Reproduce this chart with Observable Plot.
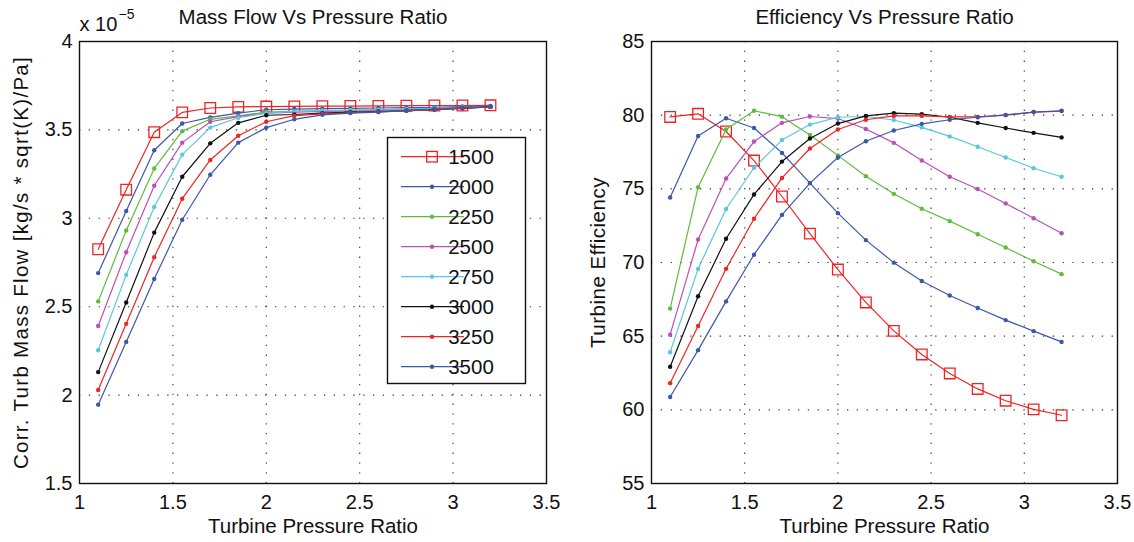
<!DOCTYPE html>
<html>
<head>
<meta charset="utf-8">
<script src="https://cdn.jsdelivr.net/npm/d3@7"></script>
<script src="https://cdn.jsdelivr.net/npm/@observablehq/plot@0.6"></script>
<style>
  html, body { margin: 0; padding: 0; background: #fff; }
  #wrap { display: flex; width: 1134px; height: 542px; }
  svg { display: block; }
</style>
</head>
<body>
<div id="wrap"></div>
<script>
// ---- data ----
const pressureRatio = [1.1, 1.25, 1.4, 1.55, 1.7, 1.85, 2.0, 2.15, 2.3, 2.45, 2.6, 2.75, 2.9, 3.05, 3.2];
const speeds = [1500, 2000, 2250, 2500, 2750, 3000, 3250, 3500];
const speedColors = ["#ee2424", "#3b58a8", "#5fbb3e", "#bb4fb5", "#5cc6de", "#111111", "#ee2424", "#3b58a8"];

// Corrected turbine mass flow, units of 1e-5 kg/s*sqrt(K)/Pa
const massFlow1500 = [2.825, 3.162, 3.487, 3.599, 3.624, 3.630, 3.632, 3.633, 3.634, 3.635, 3.636, 3.637, 3.638, 3.638, 3.639];
const massFlow2000 = [2.690, 3.041, 3.385, 3.536, 3.571, 3.595, 3.614, 3.618, 3.620, 3.622, 3.624, 3.626, 3.628, 3.632, 3.635];
const massFlow2250 = [2.530, 2.931, 3.282, 3.493, 3.560, 3.579, 3.601, 3.605, 3.608, 3.610, 3.613, 3.617, 3.621, 3.626, 3.630];
const massFlow2500 = [2.391, 2.808, 3.184, 3.428, 3.546, 3.575, 3.595, 3.600, 3.604, 3.607, 3.611, 3.615, 3.620, 3.625, 3.630];
const massFlow2750 = [2.254, 2.680, 3.064, 3.360, 3.513, 3.569, 3.595, 3.605, 3.609, 3.611, 3.614, 3.618, 3.622, 3.627, 3.631];
const massFlow3000 = [2.130, 2.524, 2.919, 3.235, 3.424, 3.540, 3.583, 3.587, 3.595, 3.600, 3.604, 3.609, 3.615, 3.622, 3.630];
const massFlow3250 = [2.029, 2.403, 2.780, 3.111, 3.330, 3.467, 3.546, 3.581, 3.591, 3.597, 3.602, 3.608, 3.615, 3.623, 3.630];
const massFlow3500 = [1.946, 2.301, 2.657, 2.992, 3.246, 3.428, 3.513, 3.560, 3.585, 3.595, 3.601, 3.610, 3.618, 3.626, 3.632];

// Turbine efficiency (%)
const eff1500 = [79.88, 80.09, 78.89, 76.92, 74.48, 71.96, 69.52, 67.29, 65.36, 63.76, 62.47, 61.42, 60.62, 60.03, 59.63];
const eff2000 = [74.41, 78.59, 79.79, 79.13, 77.44, 75.39, 73.35, 71.52, 69.99, 68.74, 67.76, 66.91, 66.09, 65.34, 64.61];
const eff2250 = [66.87, 75.11, 79.03, 80.30, 79.90, 78.66, 77.27, 75.86, 74.66, 73.65, 72.81, 71.92, 71.02, 70.08, 69.21];
const eff2500 = [65.10, 71.56, 75.70, 78.21, 79.48, 79.91, 79.77, 79.06, 78.12, 76.92, 75.82, 74.99, 74.01, 73.00, 71.99];
const eff2750 = [63.91, 69.57, 73.63, 76.43, 78.31, 79.36, 79.86, 79.91, 79.67, 79.17, 78.56, 77.86, 77.13, 76.40, 75.82];
const eff3000 = [62.92, 67.71, 71.61, 74.62, 76.85, 78.42, 79.43, 79.95, 80.14, 80.07, 79.86, 79.48, 79.13, 78.80, 78.49];
const eff3250 = [61.81, 65.69, 69.57, 72.97, 75.74, 77.74, 79.03, 79.69, 79.95, 79.95, 79.88, 79.88, 80.00, 80.21, 80.28];
const eff3500 = [60.87, 64.05, 67.36, 70.53, 73.23, 75.39, 77.13, 78.23, 78.96, 79.41, 79.69, 79.86, 80.02, 80.21, 80.30];

const xTicks = [1, 1.5, 2, 2.5, 3, 3.5];
const xGrid = [1.5, 2, 2.5, 3];
const massTicks = [1.5, 2, 2.5, 3, 3.5, 4];
const massGrid = [2, 2.5, 3, 3.5];
const effTicks = [55, 60, 65, 70, 75, 80, 85];
const effGrid = [60, 65, 70, 75, 80];

const massFlowSeries = [massFlow1500, massFlow2000, massFlow2250, massFlow2500, massFlow2750, massFlow3000, massFlow3250, massFlow3500];
const effSeries = [eff1500, eff2000, eff2250, eff2500, eff2750, eff3000, eff3250, eff3500];

// ---- build ----
const FONT = "'Liberation Sans', Arial, Helvetica, sans-serif";
const fmt = d => String(d);

function seriesMarks(seriesList) {
  const marks = [];
  seriesList.forEach((vals, i) => {
    const rows = pressureRatio.map((x, j) => ({x, y: vals[j]}));
    const color = speedColors[i];
    marks.push(Plot.line(rows, {x: "x", y: "y", stroke: color, strokeWidth: 1.2}));
    if (speeds[i] === 1500) {
      marks.push(Plot.dot(rows, {x: "x", y: "y", symbol: "square", r: 6, stroke: color, fill: "none", strokeWidth: 1.3}));
    } else {
      marks.push(Plot.dot(rows, {x: "x", y: "y", r: 2.2, fill: color, stroke: "none"}));
    }
  });
  return marks;
}

function panel({seriesList, yDomain, yTicks, yGrid, title, yLabel, yLabelSpacing, yLabelX, marginLeft, marginRight, extra = []}) {
  const svg = Plot.plot({
    width: 567,
    height: 542,
    marginLeft,
    marginRight,
    marginTop: 41,
    marginBottom: 59,
    style: {fontFamily: FONT, fontSize: "20px", color: "#111", background: "#fff", overflow: "visible"},
    x: {domain: [1, 3.5]},
    y: {domain: yDomain},
    marks: [
      Plot.gridX(xGrid, {stroke: "#333", strokeOpacity: 1, strokeWidth: 1.1, strokeDasharray: "1.3,8.5"}),
      Plot.gridY(yGrid, {stroke: "#333", strokeOpacity: 1, strokeWidth: 1.1, strokeDasharray: "1.3,8.5"}),
      ...seriesMarks(seriesList),
      Plot.frame({stroke: "#111", strokeWidth: 1.4}),
      Plot.axisX(xTicks, {tickSize: 0, tickPadding: 11, label: null, tickFormat: fmt, fontSize: 20, fill: "#111"}),
      Plot.axisY(yTicks, {tickSize: 0, tickPadding: 7, label: null, tickFormat: fmt, fontSize: 20, fill: "#111"}),
      Plot.text([title], {frameAnchor: "top", lineAnchor: "middle", textAnchor: "middle", dy: -24, fontSize: 20.5, fill: "#111"}),
      Plot.text(["Turbine Pressure Ratio"], {frameAnchor: "bottom", lineAnchor: "middle", textAnchor: "middle", dy: 43, fontSize: 20.5, fill: "#111"}),
      Plot.text([yLabel], {frameAnchor: "left", lineAnchor: "middle", textAnchor: "middle", rotate: -90, dx: -(marginLeft - yLabelX), dy: 0, fontSize: 20.5, fill: "#111"}),
      ...extra
    ]
  });
  d3.select(svg).selectAll("text").filter(function () { return this.textContent === yLabel; })
    .attr("letter-spacing", yLabelSpacing);
  return svg;
}

const left = panel({
  seriesList: massFlowSeries,
  yDomain: [1.5, 4], yTicks: massTicks, yGrid: massGrid,
  title: "Mass Flow Vs Pressure Ratio",
  yLabel: "Corr. Turb Mass Flow [kg/s * sqrt(K)/Pa]",
  yLabelSpacing: "1.3px",
  yLabelX: 21,
  marginLeft: 79, marginRight: 21,
  extra: [
    Plot.text(["x 10"], {frameAnchor: "top-left", textAnchor: "start", lineAnchor: "middle", dy: -17, fontSize: 20, fill: "#111"}),
    Plot.text(["\u22125"], {frameAnchor: "top-left", textAnchor: "start", lineAnchor: "middle", dx: 39, dy: -27, fontSize: 14, fill: "#111"})
  ]
});

const right = panel({
  seriesList: effSeries,
  yDomain: [55, 85], yTicks: effTicks, yGrid: effGrid,
  title: "Efficiency Vs Pressure Ratio",
  yLabel: "Turbine Efficiency",
  yLabelSpacing: "0.5px",
  yLabelX: 31,
  marginLeft: 84, marginRight: 17
});

// legend inside the left panel
(function addLegend(svg) {
  const g = d3.select(svg).append("g").attr("font-family", FONT);
  const bx = 387.5, by = 137.5, bw = 138, bh = 246;
  g.append("rect").attr("x", bx).attr("y", by).attr("width", bw).attr("height", bh)
    .attr("fill", "#fff").attr("stroke", "#111").attr("stroke-width", 1.4);
  speeds.forEach((s, i) => {
    const cy = 156.7 + i * 30;
    const c = speedColors[i];
    g.append("line").attr("x1", 401).attr("x2", 464).attr("y1", cy).attr("y2", cy)
      .attr("stroke", c).attr("stroke-width", 1.3);
    if (s === 1500) {
      g.append("rect").attr("x", 432 - 5.3).attr("y", cy - 5.3).attr("width", 10.6).attr("height", 10.6)
        .attr("fill", "none").attr("stroke", c).attr("stroke-width", 1.3);
    } else {
      g.append("circle").attr("cx", 432).attr("cy", cy).attr("r", 2.2).attr("fill", c);
    }
    g.append("text").attr("x", 471).attr("y", cy).attr("dy", "0.36em")
      .attr("font-size", 20.5).attr("fill", "#111").text(String(s));
  });
})(left);

document.getElementById("wrap").append(left, right);
</script>
</body>
</html>
